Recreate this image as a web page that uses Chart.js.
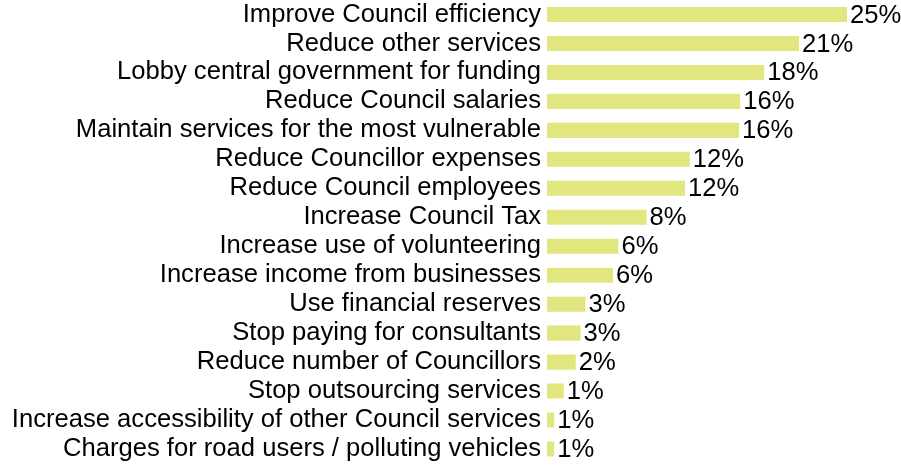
<!DOCTYPE html>
<html>
<head>
<meta charset="utf-8">
<script src="https://cdn.jsdelivr.net/npm/chart.js@4"></script>
<style>
  html, body { margin: 0; padding: 0; background: #fff; }
  #wrap { width: 901px; height: 465px; }
</style>
</head>
<body>
<div id="wrap"><canvas id="chart" width="901" height="465"></canvas></div>
<script>
const CATEGORIES = [
  'Improve Council efficiency',
  'Reduce other services',
  'Lobby central government for funding',
  'Reduce Council salaries',
  'Maintain services for the most vulnerable',
  'Reduce Councillor expenses',
  'Reduce Council employees',
  'Increase Council Tax',
  'Increase use of volunteering',
  'Increase income from businesses',
  'Use financial reserves',
  'Stop paying for consultants',
  'Reduce number of Councillors',
  'Stop outsourcing services',
  'Increase accessibility of other Council services',
  'Charges for road users / polluting vehicles'
];
const VALUES = [25, 21, 18.1, 16.1, 16, 11.9, 11.5, 8.3, 5.95, 5.5, 3.2, 2.8, 2.4, 1.4, 0.6, 0.6];
const X_MIN = 0;
const X_MAX = 29.5;
const FONT = { family: 'Arial, "Liberation Sans", sans-serif', size: 25.6 };

const valueLabels = {
  id: 'valueLabels',
  afterDatasetsDraw(chart) {
    const ctx = chart.ctx;
    const meta = chart.getDatasetMeta(0);
    ctx.save();
    ctx.font = `${FONT.size}px ${FONT.family}`;
    ctx.fillStyle = '#000';
    ctx.textAlign = 'left';
    ctx.textBaseline = 'middle';
    meta.data.forEach((bar, i) => {
      ctx.fillText(Math.round(VALUES[i]) + '%', bar.x + 3, bar.y + 1);
    });
    ctx.restore();
  }
};

new Chart(document.getElementById('chart'), {
  type: 'bar',
  data: {
    labels: CATEGORIES,
    datasets: [{
      data: VALUES,
      backgroundColor: '#e1e77e',
      borderWidth: 0,
      barPercentage: 0.52,
      categoryPercentage: 1
    }]
  },
  options: {
    indexAxis: 'y',
    responsive: false,
    animation: false,
    layout: { padding: { top: -2.5, bottom: 1.5, left: 0, right: 0 } },
    plugins: { legend: { display: false }, tooltip: { enabled: false } },
    scales: {
      x: { display: false, min: X_MIN, max: X_MAX },
      y: {
        grid: { display: false, drawTicks: false, tickLength: 0 },
        border: { display: false },
        ticks: { color: '#000', font: FONT, padding: 6, autoSkip: false },
        afterFit(scale) {
          scale.width = 547;
          scale.paddingTop = 0;
          scale.paddingBottom = 0;
        }
      }
    }
  },
  plugins: [valueLabels]
});
</script>
</body>
</html>
